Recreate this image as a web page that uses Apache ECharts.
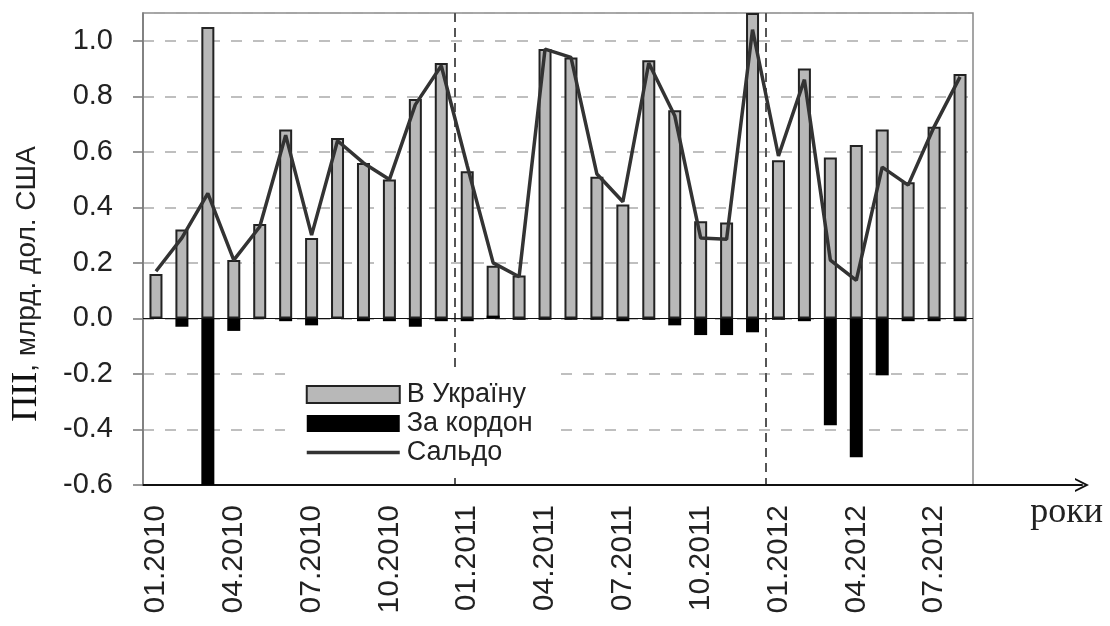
<!DOCTYPE html>
<html>
<head>
<meta charset="utf-8">
<script src="https://cdn.jsdelivr.net/npm/echarts@6/dist/echarts.min.js"></script>
<style>
  html, body { margin: 0; padding: 0; background: #fff; }
  #main { width: 1110px; height: 626px; }
</style>
</head>
<body>
<div id="main"></div>
<script>
var months = ['01.2010','02.2010','03.2010','04.2010','05.2010','06.2010','07.2010','08.2010','09.2010','10.2010','11.2010','12.2010',
              '01.2011','02.2011','03.2011','04.2011','05.2011','06.2011','07.2011','08.2011','09.2011','10.2011','11.2011','12.2011',
              '01.2012','02.2012','03.2012','04.2012','05.2012','06.2012','07.2012','08.2012'];
// В Україну
var inflow = [0.16, 0.32, 1.05, 0.21, 0.34, 0.68, 0.29, 0.65, 0.56, 0.50, 0.79, 0.92,
              0.53, 0.19, 0.155, 0.97, 0.94, 0.51, 0.41, 0.93, 0.75, 0.35, 0.345, 1.10,
              0.57, 0.90, 0.58, 0.625, 0.68, 0.49, 0.69, 0.88];
// За кордон
var outflow = [0, -0.03, -0.6, -0.045, 0, -0.01, -0.025, 0, -0.01, -0.01, -0.03, -0.01,
               -0.01, 0.01, -0.005, -0.005, -0.005, -0.005, -0.01, -0.005, -0.025, -0.06, -0.06, -0.05,
               -0.005, -0.01, -0.385, -0.50, -0.205, -0.01, -0.01, -0.01];
// Сальдо
var saldo = [0.17, 0.29, 0.45, 0.21, 0.33, 0.66, 0.30, 0.64, 0.56, 0.50, 0.77, 0.91,
             0.55, 0.20, 0.15, 0.97, 0.94, 0.52, 0.42, 0.92, 0.73, 0.29, 0.285, 1.04,
             0.585, 0.86, 0.21, 0.137, 0.545, 0.48, 0.69, 0.87];

var sans = 'Liberation Sans, Arial, sans-serif';
var serif = 'Liberation Serif, Times New Roman, serif';

var myChart = echarts.init(document.getElementById('main'));

var option = {
  animation: false,
  backgroundColor: '#fff',
  grid: [
    { left: 143, right: 137, top: 13, bottom: 141, show: true, borderColor: '#888', borderWidth: 1.5 },
    { left: 143, right: 28, top: 13, bottom: 141 }
  ],
  legend: {
    orient: 'vertical',
    left: 285,
    top: 372,
    padding: [8, 20, 8, 20],
    backgroundColor: '#fff',
    itemWidth: 93,
    itemHeight: 17,
    itemGap: 0,
    textStyle: { fontFamily: sans, fontSize: 27, lineHeight: 29, color: '#222', padding: [0, 0, 0, 2] },
    data: [
      { name: 'В Україну', icon: 'rect' },
      { name: 'За кордон', icon: 'rect' },
      { name: 'Сальдо', itemStyle: { opacity: 0 }, lineStyle: { width: 3.5, color: '#333' } }
    ]
  },
  xAxis: [
    {
      type: 'category',
      gridIndex: 0,
      data: months,
      boundaryGap: true,
      axisLine: { show: false },
      axisTick: { show: false },
      axisLabel: {
        interval: 2,
        rotate: 90,
        margin: 20,
        fontFamily: sans,
        fontSize: 30,
        color: '#222'
      },
      splitLine: {
        show: true,
        showMaxLine: false,
        interval: function (index) { return index === 12 || index === 24; },
        lineStyle: { color: '#555', width: 2, type: [9, 6] }
      }
    },
    {
      type: 'value',
      gridIndex: 1,
      min: 0,
      max: 1,
      axisLine: {
        show: true,
        lineStyle: { color: '#111', width: 2 },
        symbol: ['none', 'path://M0,20 L10,0 L20,20 L17,20 L10,6 L3,20 Z'],
        symbolSize: [18, 14]
      },
      axisTick: { show: false },
      axisLabel: { show: false },
      splitLine: { show: false },
      name: 'роки',
      nameLocation: 'end',
      nameGap: 21,
      nameTextStyle: {
        fontFamily: serif,
        fontSize: 36,
        color: '#222',
        align: 'right',
        verticalAlign: 'top',
        padding: [10, 0, 0, 0]
      }
    }
  ],
  yAxis: [
    {
      type: 'value',
      gridIndex: 0,
      min: -0.6,
      max: 1.1,
      interval: 0.2,
      axisLine: { show: true, lineStyle: { color: '#777', width: 1.5 } },
      axisTick: { show: true, length: 10, lineStyle: { color: '#777', width: 1.5 } },
      axisLabel: {
        showMaxLabel: false,
        margin: 30,
        fontFamily: sans,
        fontSize: 29,
        color: '#222',
        formatter: function (v) { return v.toFixed(1); }
      },
      splitLine: { show: true, lineStyle: { color: '#aaa', width: 1.5, type: [11, 11] } },
      name: '{a|ПІІ}{b|, млрд. дол. США}',
      nameLocation: 'middle',
      nameGap: 98,
      nameTextStyle: {
        padding: [0, 70, 0, 0],
        rich: {
          a: { fontFamily: serif, fontSize: 36, color: '#111' },
          b: { fontFamily: sans, fontSize: 28, color: '#222' }
        }
      }
    },
    { type: 'value', gridIndex: 1, min: 0, max: 1, show: false }
  ],
  series: [
    {
      name: 'В Україну',
      type: 'bar',
      xAxisIndex: 0,
      yAxisIndex: 0,
      data: inflow,
      barWidth: 13,
      barGap: '-100%',
      itemStyle: { color: '#b8b8b8', borderColor: '#222', borderWidth: 2 },
      markLine: {
        silent: true,
        symbol: 'none',
        label: { show: false },
        lineStyle: { color: '#111', width: 1, type: 'solid' },
        data: [{ yAxis: 0 }]
      }
    },
    {
      name: 'За кордон',
      type: 'bar',
      xAxisIndex: 0,
      yAxisIndex: 0,
      data: outflow,
      barWidth: 13,
      itemStyle: { color: '#000' }
    },
    {
      name: 'Сальдо',
      type: 'line',
      xAxisIndex: 0,
      yAxisIndex: 0,
      data: saldo,
      symbol: 'none',
      lineStyle: { color: '#333', width: 3.5 },
      itemStyle: { color: '#333' },
      z: 5
    }
  ]
};
myChart.setOption(option);
</script>
</body>
</html>
